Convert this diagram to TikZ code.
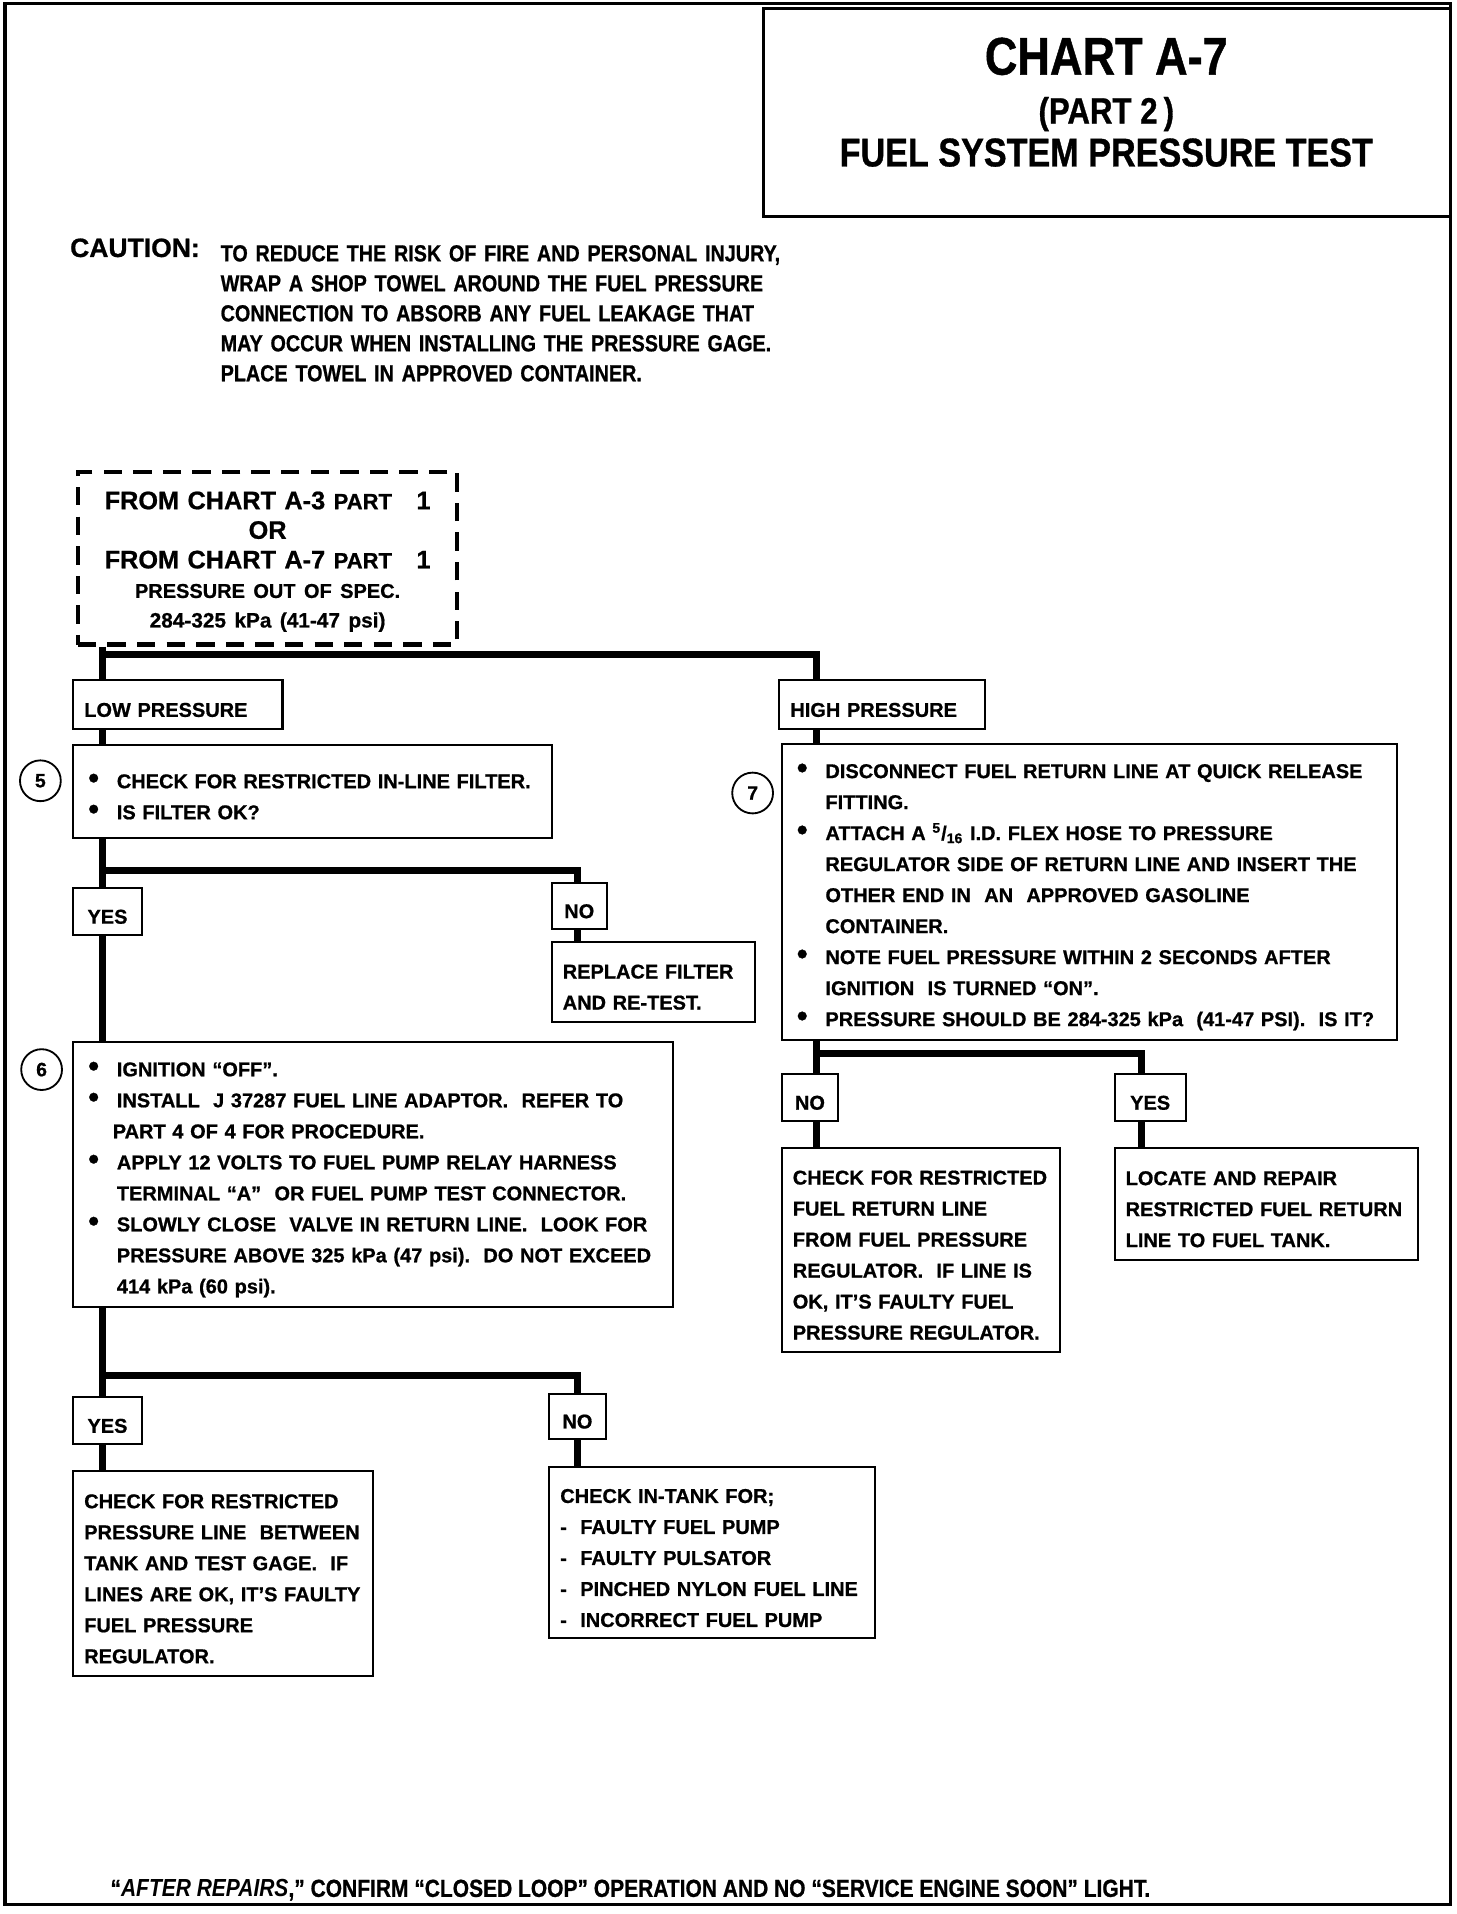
\documentclass[tikz,border=0pt]{standalone}
\usepackage{fontspec}
\setmainfont{Liberation Sans}[BoldFeatures={FakeBold=0.8}]
\newfontfamily\narrowfont{Liberation Sans}[Ligatures=TeX, FakeStretch=0.85,
  BoldFeatures={FakeBold=0.8}]
\usetikzlibrary{positioning}

\newcommand{\bul}{\hspace*{2pt}\makebox[14pt][l]{\fontsize{15}{12}\selectfont\textbullet}}
\newcommand{\ind}{\hspace*{16pt}}

\tikzset{
  box/.style={draw, line width=1pt, anchor=north west, align=left,
    inner xsep=5.4pt, inner ysep=0pt, text height=12pt,
    font=\fontsize{9.8}{15.2}\selectfont\bfseries},
  sz/.style 2 args={minimum width=#1*0.6pt, text width=#1*0.6pt-10.8pt,
    minimum height=#2*0.6pt},
  conn/.style={line width=3.4pt},
  num/.style={draw, circle, line width=0.9pt, minimum size=20pt,
    inner sep=0pt, font=\fontsize{9.5}{9.5}\selectfont\bfseries},
}

\begin{document}
\begin{tikzpicture}[x=0.6pt, y=-0.6pt]
  \useasboundingbox (0,0) rectangle (1190,1564);

  % page frame and title block
  \draw[line width=1.6pt] (4,3) rectangle (1185,1556);
  \draw[line width=1.2pt] (624,7) rectangle (1185,177);
  \node[anchor=base, inner sep=0pt, font=\narrowfont\fontsize{26}{26}\selectfont\bfseries]
    (chart) at (904,61) {CHART A-7};
  \node[anchor=base, inner sep=0pt, font=\narrowfont\fontsize{18}{18}\selectfont\bfseries]
    (part) at (904,101) {(PART 2\,)};
  \node[anchor=base, inner sep=0pt, font=\narrowfont\fontsize{19.7}{19.7}\selectfont\bfseries]
    (test) at (904,136) {FUEL SYSTEM PRESSURE TEST};

  % caution
  \node[anchor=base west, inner sep=0pt, font=\fontsize{13}{13}\selectfont\bfseries]
    (caution) at (57,210) {CAUTION:};
  \node[anchor=north west, inner sep=0pt, align=left, text width=330pt,
    font=\narrowfont\fontsize{11.4}{14.7}\selectfont\bfseries] (warn) at (180,200)
    {TO REDUCE THE RISK OF FIRE AND PERSONAL INJURY,\\
     WRAP A SHOP TOWEL AROUND THE FUEL PRESSURE\\
     CONNECTION TO ABSORB ANY FUEL LEAKAGE THAT\\
     MAY OCCUR WHEN INSTALLING THE PRESSURE GAGE.\\
     PLACE TOWEL IN APPROVED CONTAINER.};

  % entry box
  \node[box, sz={310}{141}, align=center, line width=2pt, dash pattern=on 9pt off 5.5pt,
    font=\fontsize{12.4}{14.5}\selectfont\bfseries] (start) at (62,384)
    {FROM CHART A-3 {\fontsize{10.8}{14.5}\selectfont PART}\hspace{12pt}1\\
     OR\\
     FROM CHART A-7 {\fontsize{10.8}{14.5}\selectfont PART}\hspace{12pt}1\\
     {\fontsize{9.8}{14.5}\selectfont PRESSURE OUT OF SPEC.}\\
     {\fontsize{10.2}{14.5}\selectfont 284-325 kPa (41-47 psi)}};

  % low pressure side
  \node[box, sz={171}{40}] (low) at (59,555) {LOW PRESSURE};
  \node[box, sz={391}{76}] (chk5) at (59,608)
    {\bul CHECK FOR RESTRICTED IN-LINE FILTER.\\
     \bul IS FILTER OK?};
  \node[num] (n5) at (33,638) {5};
  \node[box, sz={56}{38}, align=center] (yes5) at (59,725) {YES};
  \node[box, sz={45}{37}, align=center] (no5) at (450,721) {NO};
  \node[box, sz={166}{65}] (replace) at (450,769)
    {REPLACE FILTER\\ AND RE-TEST.};
  \node[box, sz={490}{216}] (chk6) at (59,851)
    {\bul IGNITION ``OFF''.\\
     \bul INSTALL\ \ J 37287 FUEL LINE ADAPTOR.\ \ REFER TO\\
     \hspace*{14pt}PART 4 OF 4 FOR PROCEDURE.\\
     \bul APPLY 12 VOLTS TO FUEL PUMP RELAY HARNESS\\
     \ind TERMINAL ``A''\ \ OR FUEL PUMP TEST CONNECTOR.\\
     \bul SLOWLY CLOSE\ \ VALVE IN RETURN LINE.\ \ LOOK FOR\\
     \ind PRESSURE ABOVE 325 kPa (47 psi).\ \ DO NOT EXCEED\\
     \ind 414 kPa (60 psi).};
  \node[num] (n6) at (34,874) {6};
  \node[box, sz={56}{38}, align=center] (yes6) at (59,1141) {YES};
  \node[box, sz={46}{37}, align=center] (no6) at (448,1138) {NO};
  \node[box, sz={245}{168}] (lineck) at (59,1201)
    {CHECK FOR RESTRICTED\\ PRESSURE LINE\ \ BETWEEN\\ TANK AND TEST GAGE.\ \ IF\\
     LINES ARE OK, IT'S FAULTY\\ FUEL PRESSURE\\ REGULATOR.};
  \node[box, sz={266}{140}] (intank) at (448,1198)
    {CHECK IN-TANK FOR;\\ -\ \ FAULTY FUEL PUMP\\ -\ \ FAULTY PULSATOR\\
     -\ \ PINCHED NYLON FUEL LINE\\ -\ \ INCORRECT FUEL PUMP};

  % high pressure side
  \node[box, sz={168}{40}] (high) at (636,555) {HIGH PRESSURE};
  \node[box, sz={503}{242}] (chk7) at (638,607)
    {\bul DISCONNECT FUEL RETURN LINE AT QUICK RELEASE\\
     \ind FITTING.\\
     \bul ATTACH A \textsuperscript{5}/\textsubscript{16} I.D. FLEX HOSE TO PRESSURE\\
     \ind REGULATOR SIDE OF RETURN LINE AND INSERT THE\\
     \ind OTHER END IN\ \ AN\ \ APPROVED GASOLINE\\
     \ind CONTAINER.\\
     \bul NOTE FUEL PRESSURE WITHIN 2 SECONDS AFTER\\
     \ind IGNITION\ \ IS TURNED ``ON''.\\
     \bul PRESSURE SHOULD BE 284-325 kPa\ \ (41-47 PSI).\ \ IS IT?};
  \node[num] (n7) at (615,648) {7};
  \node[box, sz={46}{38}, align=center] (no7) at (638,877) {NO};
  \node[box, sz={58}{38}, align=center] (yes7) at (910,877) {YES};
  \node[box, sz={227}{167}] (retck) at (638,937)
    {CHECK FOR RESTRICTED\\ FUEL RETURN LINE\\ FROM FUEL PRESSURE\\
     REGULATOR.\ \ IF LINE IS\\ OK, IT'S FAULTY FUEL\\ PRESSURE REGULATOR.};
  \node[box, sz={248}{92}] (locate) at (910,937)
    {LOCATE AND REPAIR\\ RESTRICTED FUEL RETURN\\ LINE TO FUEL TANK.};

  % connectors
  \coordinate (lt) at (84,535);
  \coordinate (rt) at (667,535);
  \coordinate (s5) at (84,711);
  \coordinate (s5n) at (472,711);
  \coordinate (s6) at (84,1124);
  \coordinate (s6n) at (472,1124);
  \coordinate (s7) at (667,861);
  \coordinate (s7y) at (933,861);
  \draw[conn] (start.south -| lt) -- (lt) -- (rt) -- (high.north -| rt);
  \draw[conn] (lt) -- (low.north -| lt);
  \draw[conn] (low.south -| lt) -- (chk5.north -| lt);
  \draw[conn] (chk5.south -| s5) -- (s5) -- (s5n) -- (no5.north -| s5n);
  \draw[conn] (s5) -- (yes5.north -| s5);
  \draw[conn] (no5.south -| s5n) -- (replace.north -| s5n);
  \draw[conn] (yes5.south -| s5) -- (chk6.north -| s5);
  \draw[conn] (chk6.south -| s6) -- (s6) -- (s6n) -- (no6.north -| s6n);
  \draw[conn] (s6) -- (yes6.north -| s6);
  \draw[conn] (yes6.south -| s6) -- (lineck.north -| s6);
  \draw[conn] (no6.south -| s6n) -- (intank.north -| s6n);
  \draw[conn] (high.south -| rt) -- (chk7.north -| rt);
  \draw[conn] (chk7.south -| s7) -- (s7) -- (s7y) -- (yes7.north -| s7y);
  \draw[conn] (s7) -- (no7.north -| s7);
  \draw[conn] (no7.south -| s7) -- (retck.north -| s7);
  \draw[conn] (yes7.south -| s7y) -- (locate.north -| s7y);

  % footer
  \node[anchor=base west, inner sep=0pt, font=\narrowfont\fontsize{12.1}{12}\selectfont\bfseries]
    (foot) at (90,1550)
    {``\textit{AFTER REPAIRS},''\ CONFIRM ``CLOSED LOOP'' OPERATION AND NO ``SERVICE ENGINE SOON'' LIGHT.};
\end{tikzpicture}
\end{document}
